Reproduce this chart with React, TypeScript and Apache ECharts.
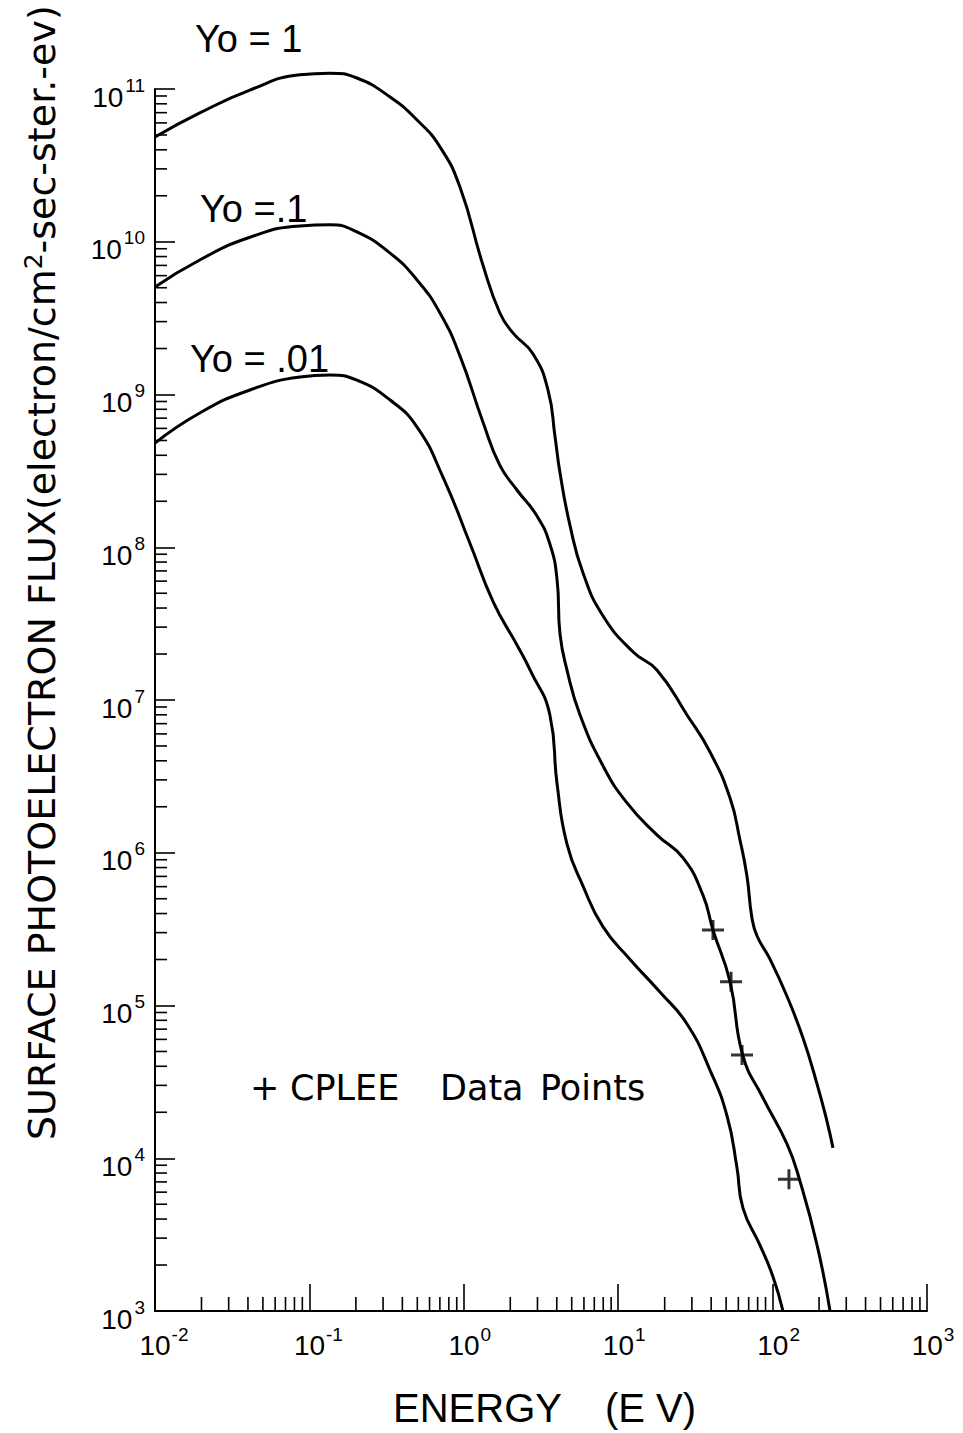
import { useEffect, useRef } from "react";
import * as echarts from "echarts";

// Surface photoelectron flux spectra for three photoelectric yields (Yo)
const energyYo1 = [0.01, 0.0195, 0.0412, 0.0869, 0.136, 0.203, 0.333, 0.498, 0.701, 0.944, 1.33, 1.71, 2.08, 2.81, 3.51, 3.9, 4.2, 4.88, 5.92, 7.98, 12.5, 17.8, 27.9, 39.3, 53.0, 61.5, 68.2, 73.5, 79.3, 96.2, 123.9, 157.4, 194.1, 224.9, 246.0];
const fluxYo1 = [4.85e10, 6.97e10, 9.84e10, 1.24e11, 1.27e11, 1.18e11, 8.87e10, 6.27e10, 4.18e10, 2.28e10, 7.05e9, 3.43e9, 2.53e9, 1.84e9, 1.07e9, 5.27e8, 3.06e8, 1.38e8, 6.78e7, 3.55e7, 2.06e7, 1.57e7, 7.98e6, 4.57e6, 2.28e6, 1.21e6, 7.05e5, 3.74e5, 2.85e5, 2.01e5, 1.15e5, 6.12e4, 3.06e4, 1.75e4, 1.17e4];

const energyYoP1 = [0.01, 0.0195, 0.0412, 0.0869, 0.136, 0.203, 0.333, 0.498, 0.701, 0.944, 1.33, 1.71, 2.21, 2.98, 3.61, 4.02, 4.2, 4.66, 5.66, 7.98, 11.4, 17.8, 26.3, 35.4, 41.1, 53.0, 64.3, 86.7, 123.9, 150.3, 194.1, 235.5];
const fluxYoP1 = [5.06e9, 7.6e9, 1.07e10, 1.27e10, 1.29e10, 1.16e10, 8.43e9, 5.62e9, 3.42e9, 1.79e9, 6.61e8, 3.45e8, 2.37e8, 1.6e8, 1.05e8, 6.11e7, 2.7e7, 1.57e7, 7.98e6, 3.7e6, 2.12e6, 1.31e6, 9.25e5, 5.28e5, 3.12e5, 1.43e5, 4.67e4, 2.48e4, 1.24e4, 7.1e3, 2.7e3, 1.0e3];

const energyYoP01 = [0.01, 0.0195, 0.0412, 0.0869, 0.136, 0.203, 0.333, 0.498, 0.733, 1.1, 1.55, 2.21, 2.69, 3.61, 4.02, 4.66, 5.92, 7.98, 11.9, 18.7, 27.9, 39.3, 50.7, 58.7, 64.3, 82.8, 100.7, 116.7];
const fluxYoP01 = [4.81e8, 7.57e8, 1.07e9, 1.3e9, 1.34e9, 1.24e9, 9.2e8, 6.12e8, 2.88e8, 1.05e8, 4.39e7, 2.29e7, 1.57e7, 7.98e6, 2.82e6, 1.14e6, 6.05e5, 3.27e5, 2.01e5, 1.22e5, 7.57e4, 3.78e4, 1.89e4, 8.77e3, 4.72e3, 2.7e3, 1.67e3, 1.0e3];

// CPLEE measurements
const cpleeEnergy = [41.1, 53.8, 63.4, 127.6];
const cpleeFlux = [3.12e5, 1.43e5, 4.74e4, 7.3e3];

// Axis ranges and log-paper minor subdivisions
const X_MIN = 0.01;
const X_MAX = 1000;
const Y_MIN = 1e3;
const Y_MAX = 1e11;
const xMinorDecades = [-2, -1, 0, 1, 2];
const yMinorDecades = [3, 4, 5, 6, 7, 8, 9, 10];
const minorSteps = [2, 3, 4, 5, 6, 7, 8, 9];

const curveLabels = ["Yo = 1", "Yo =.1", "Yo = .01"];
const legendWords = ["+", "CPLEE", "Data", "Points"];
const legendLefts = [250, 290, 440, 540];
const yTitleMain = "SURFACE PHOTOELECTRON FLUX(electron/cm";
const yTitleSup = "2";
const yTitleTail = "-sec-ster.-ev)";
const xTitleA = "ENERGY";
const xTitleB = "(E V)";

const LETTER = "'Liberation Sans', Arial, sans-serif";
const WIDE = "'DejaVu Sans', sans-serif";

const pairs = (xs: number[], ys: number[]) => xs.map((x, i) => [x, ys[i]]);

export default function App() {
  const ref = useRef<HTMLDivElement>(null);

  useEffect(() => {
    if (!ref.current) return;
    const chart = echarts.init(ref.current, undefined, { renderer: "svg" });

    const xMinor: number[][] = [];
    xMinorDecades.forEach((k) => minorSteps.forEach((m) => xMinor.push([m * Math.pow(10, k), Y_MIN])));
    const yMinor: number[][] = [];
    yMinorDecades.forEach((k) => minorSteps.forEach((m) => yMinor.push([X_MIN, m * Math.pow(10, k)])));

    const curve = (name: string, xs: number[], ys: number[]) => ({
      name,
      type: "line",
      data: pairs(xs, ys),
      symbol: "none",
      smooth: 0.5,
      clip: false,
      silent: true,
      lineStyle: { color: "#000", width: 3 },
      z: 3,
    });

    chart.setOption({
      animation: false,
      backgroundColor: "#fff",
      grid: { left: 155, right: 36, top: 89, bottom: 122 },
      xAxis: {
        type: "log",
        logBase: 10,
        min: X_MIN,
        max: X_MAX,
        splitNumber: 5,
        axisLine: { lineStyle: { color: "#000", width: 2 } },
        axisTick: { inside: true, length: 27, lineStyle: { color: "#000", width: 1.6 } },
        splitLine: { show: false },
        axisLabel: {
          margin: 14,
          formatter: (v: number) => {
            const e = String(Math.round(Math.log10(v)));
            return `{${e.length > 1 ? "p2" : "p1"}|}{b|10}{s|${e}}`;
          },
          rich: {
            p1: { width: 12 },
            p2: { width: 18 },
            b: { fontSize: 28, fontFamily: LETTER, color: "#000" },
            s: { fontSize: 19, fontFamily: LETTER, color: "#000", padding: [0, 0, 22, 1] },
          },
        },
      },
      yAxis: {
        type: "log",
        logBase: 10,
        min: Y_MIN,
        max: Y_MAX,
        splitNumber: 8,
        axisLine: { lineStyle: { color: "#000", width: 2 } },
        axisTick: { inside: true, length: 20, lineStyle: { color: "#000", width: 1.6 } },
        splitLine: { show: false },
        axisLabel: {
          margin: 10,
          formatter: (v: number) => `{b|10}{s|${Math.round(Math.log10(v))}}`,
          rich: {
            b: { fontSize: 28, fontFamily: LETTER, color: "#000", padding: [16, 0, 0, 0] },
            s: { fontSize: 19, fontFamily: LETTER, color: "#000", padding: [0, 0, 8, 2] },
          },
        },
      },
      series: [
        curve("Yo = 1", energyYo1, fluxYo1),
        curve("Yo = .1", energyYoP1, fluxYoP1),
        curve("Yo = .01", energyYoP01, fluxYoP01),
        {
          name: "CPLEE",
          type: "scatter",
          data: pairs(cpleeEnergy, cpleeFlux),
          symbol: "path://M0,8.5 L22,8.5 L22,11.5 L0,11.5 Z M9.5,0 L12.5,0 L12.5,20 L9.5,20 Z",
          symbolSize: [22, 20],
          itemStyle: { color: "#000" },
          silent: true,
          z: 4,
        },
        {
          name: "x minor ticks",
          type: "custom",
          data: xMinor,
          encode: { x: 0, y: 1 },
          silent: true,
          renderItem: (_p: any, api: any) => {
            const pt = api.coord([api.value(0), api.value(1)]);
            return {
              type: "line",
              shape: { x1: pt[0], y1: pt[1], x2: pt[0], y2: pt[1] - 14 },
              style: { stroke: "#000", lineWidth: 1.6 },
            };
          },
        },
        {
          name: "y minor ticks",
          type: "custom",
          data: yMinor,
          encode: { x: 0, y: 1 },
          silent: true,
          renderItem: (_p: any, api: any) => {
            const pt = api.coord([api.value(0), api.value(1)]);
            return {
              type: "line",
              shape: { x1: pt[0], y1: pt[1], x2: pt[0] + 12, y2: pt[1] },
              style: { stroke: "#000", lineWidth: 1.6 },
            };
          },
        },
      ],
      graphic: [
        { type: "text", left: 195, top: 20, style: { text: curveLabels[0], fontSize: 38, fontFamily: LETTER, fill: "#000" } },
        { type: "text", left: 200, top: 190, style: { text: curveLabels[1], fontSize: 38, fontFamily: LETTER, fill: "#000" } },
        { type: "text", left: 190, top: 340, style: { text: curveLabels[2], fontSize: 38, fontFamily: LETTER, fill: "#000" } },
        ...legendWords.map((w, i) => ({
          type: "text",
          left: legendLefts[i],
          top: 1070,
          style: { text: w, fontSize: 35, fontFamily: WIDE, fill: "#000" },
        })),
        { type: "text", left: 393, top: 1388, style: { text: xTitleA, fontSize: 40, fontFamily: LETTER, fill: "#000" } },
        { type: "text", left: 605, top: 1388, style: { text: xTitleB, fontSize: 40, fontFamily: LETTER, fill: "#000" } },
        {
          type: "text",
          x: 42,
          y: 1140,
          rotation: Math.PI / 2,
          style: {
            text: `{a|${yTitleMain}}{s|${yTitleSup}}{a|${yTitleTail}}`,
            align: "left",
            verticalAlign: "middle",
            fill: "#000",
            rich: {
              a: { fontSize: 38, fontFamily: WIDE, fill: "#000" },
              s: { fontSize: 25, fontFamily: WIDE, fill: "#000", padding: [0, 0, 18, 0] },
            },
          },
        },
      ],
    });

    return () => chart.dispose();
  }, []);

  return <div ref={ref} style={{ position: "absolute", left: 0, top: 0, width: 963, height: 1433 }} />;
}
